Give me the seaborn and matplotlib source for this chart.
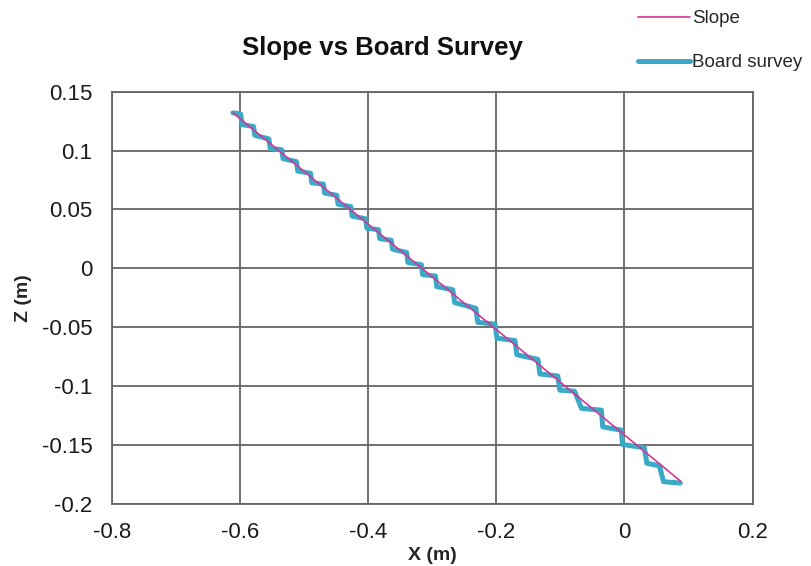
import matplotlib
matplotlib.use("Agg")
import matplotlib.pyplot as plt
import seaborn as sns
import pandas as pd

# ---- data ----
slope_x = [-0.611, 0.088]
slope_z = [0.132, -0.181]

survey_x = [-0.611, -0.599, -0.597, -0.579, -0.577, -0.555, -0.553, -0.535, -0.533,
            -0.512, -0.510, -0.490, -0.488, -0.470, -0.468, -0.449, -0.447,
            -0.427, -0.425, -0.404, -0.402, -0.384, -0.382, -0.364, -0.362,
            -0.340, -0.338, -0.317, -0.315, -0.295, -0.293, -0.268, -0.265,
            -0.232, -0.229, -0.202, -0.199, -0.171, -0.168, -0.135, -0.132,
            -0.104, -0.101, -0.078, -0.067, -0.036, -0.034, -0.005, -0.003,
            0.031, 0.035, 0.0545, 0.061, 0.087]
survey_z = [0.132, 0.131, 0.122, 0.1205, 0.1129, 0.1099, 0.1019, 0.1007, 0.0931,
            0.0906, 0.0826, 0.0807, 0.0727, 0.0715, 0.0639, 0.0620, 0.0544,
            0.0523, 0.0443, 0.0420, 0.0340, 0.0328, 0.0252, 0.0238, 0.0162,
            0.0134, 0.0050, 0.0030, -0.0054, -0.0066, -0.0156, -0.0182, -0.0292,
            -0.0339, -0.0459, -0.0474, -0.0594, -0.0614, -0.0734, -0.0774, -0.0898,
            -0.0915, -0.1035, -0.1044, -0.1190, -0.1205, -0.1347, -0.1375, -0.1496,
            -0.1525, -0.1657, -0.1677, -0.1813, -0.1824]

x_ticks = [-0.8, -0.6, -0.4, -0.2, 0, 0.2]
x_labels = ["-0.8", "-0.6", "-0.4", "-0.2", "0", "0.2"]
z_ticks = [-0.2, -0.15, -0.1, -0.05, 0, 0.05, 0.1, 0.15]
z_labels = ["-0.2", "-0.15", "-0.1", "-0.05", "0", "0.05", "0.1", "0.15"]

slope_df = pd.DataFrame({"x": slope_x, "z": slope_z})
survey_df = pd.DataFrame({"x": survey_x, "z": survey_z})

sns.set_style("white")
plt.rcParams["font.family"] = ["Liberation Sans", "DejaVu Sans"]

fig = plt.figure(figsize=(8.11, 5.66), dpi=100)
ax = fig.add_axes([0.138, 0.110, 0.790, 0.728])

grid_c = "#666666"
teal = "#3aa9c6"
magenta = "#d4359b"

sns.lineplot(data=survey_df, x="x", y="z", sort=False, estimator=None,
             color=teal, linewidth=3.6, ax=ax, label="Board survey", zorder=3)
sns.lineplot(data=slope_df, x="x", y="z", sort=False, estimator=None,
             color=magenta, linewidth=1.2, ax=ax, label="Slope", zorder=4)

ax.set_xlim(-0.8, 0.2)
ax.set_ylim(-0.2, 0.15)
ax.set_xticks(x_ticks)
ax.set_xticklabels(x_labels)
ax.set_yticks(z_ticks)
ax.set_yticklabels(z_labels)
ax.grid(True, color=grid_c, linewidth=1.3)
ax.set_axisbelow(True)
for s in ax.spines.values():
    s.set_color(grid_c)
    s.set_linewidth(1.3)
ax.tick_params(axis="both", which="major", direction="out", length=5,
               width=1.3, color=grid_c, labelsize=16, labelcolor="#1a1a1a")
ax.tick_params(axis="x", pad=8)
ax.tick_params(axis="y", pad=9)

ax.set_xlabel("X (m)", fontsize=14, fontweight="bold", labelpad=3)
ax.set_ylabel("Z (m)", fontsize=14, fontweight="bold", labelpad=7)

fig.text(382 / 811, 1 - 48 / 566, "Slope vs Board Survey", ha="center", va="center",
         fontsize=18.5, fontweight="bold", color="#111111")

handles, labels = ax.get_legend_handles_labels()
order = [labels.index("Slope"), labels.index("Board survey")]
leg = fig.legend([handles[i] for i in order], [labels[i] for i in order],
                 loc="upper left", bbox_to_anchor=(638 / 811, 1 - 10 / 566),
                 frameon=False, fontsize=13.5, handlelength=2.75, handletextpad=0.15,
                 labelspacing=1.45, borderaxespad=0, borderpad=0)
if ax.get_legend():
    ax.get_legend().remove()

fig.savefig("out.png", dpi=100, facecolor="white")
